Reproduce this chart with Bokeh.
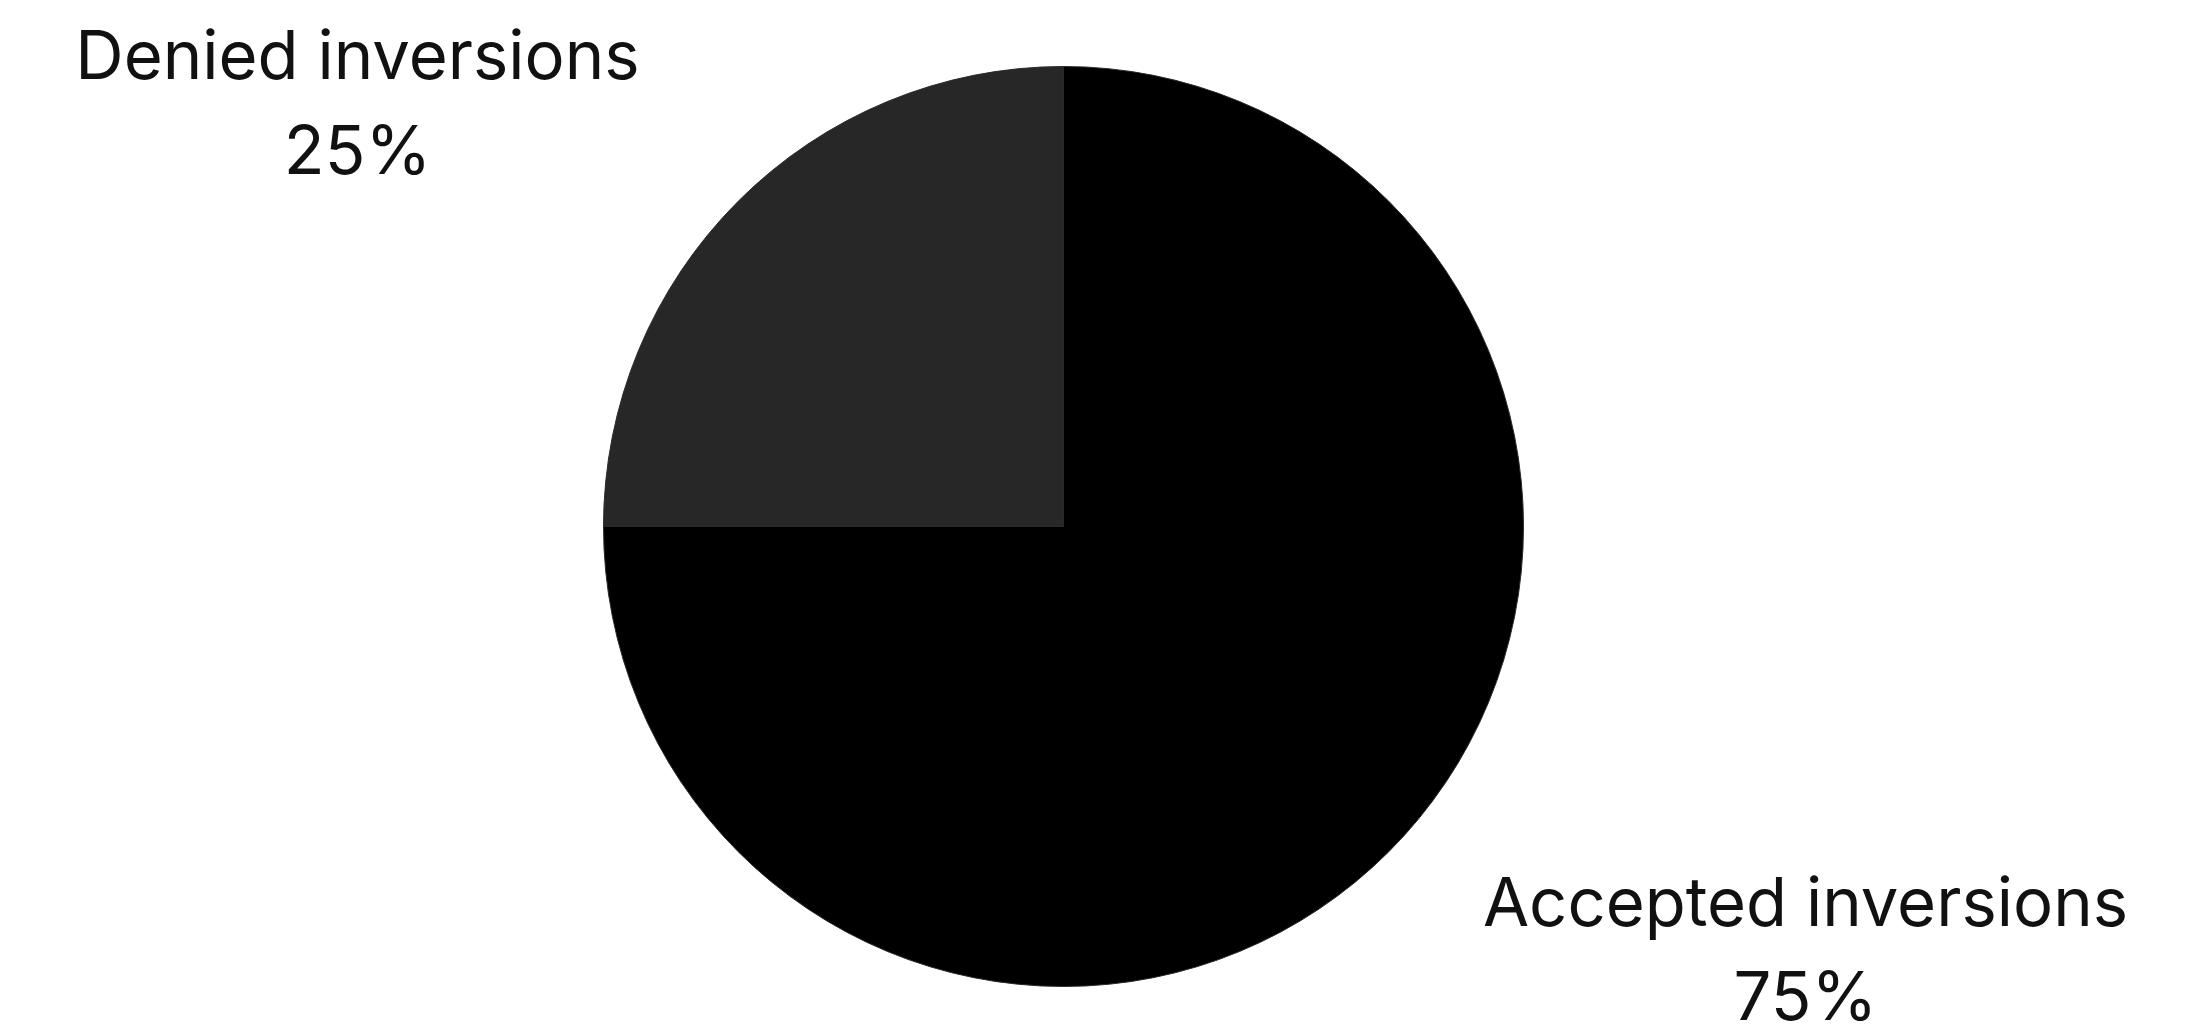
import math
from bokeh.plotting import figure
from bokeh.models import ColumnDataSource
from bokeh.core.properties import value
from bokeh.embed import file_html
from bokeh.resources import INLINE

categories = ["Denied inversions", "Accepted inversions"]
shares = [25, 75]
pct_labels = ["25%", "75%"]
colors = ["#272727", "#000000"]

W, H = 2193, 1036
CX, CY, R = 1063, H - 526, 460

total = float(sum(shares))
starts, ends = [], []
a = math.pi / 2
for v in shares:
    starts.append(a)
    a += 2 * math.pi * v / total
    ends.append(a)

src = ColumnDataSource(dict(cat=categories, start=starts, end=ends, color=colors))

p = figure(width=W, height=H, x_range=(0, W), y_range=(0, H),
           output_backend="svg", toolbar_location=None, min_border=0)
p.axis.visible = False
p.grid.visible = False
p.outline_line_color = None
p.background_fill_color = "white"
p.border_fill_color = "white"

p.wedge(x=CX, y=CY, radius=R, start_angle="start", end_angle="end",
        fill_color="color", line_color="#2a2a2a", line_width=1, source=src)

# label anchors (layout)
name_x = [357, 1805]
name_y = [H - 54, H - 901]
pct_y = [H - 149, H - 995]

p.text(x=name_x, y=name_y, text=categories, text_align="center",
       text_baseline="alphabetic", text_font=value("Inter"),
       text_font_size="67px", text_color="#111111")
p.text(x=name_x, y=pct_y, text=pct_labels, text_align="center",
       text_baseline="alphabetic", text_font=value("Inter"),
       text_font_size="67px", text_color="#111111")

open("out.html", "w").write(file_html(p, INLINE))
